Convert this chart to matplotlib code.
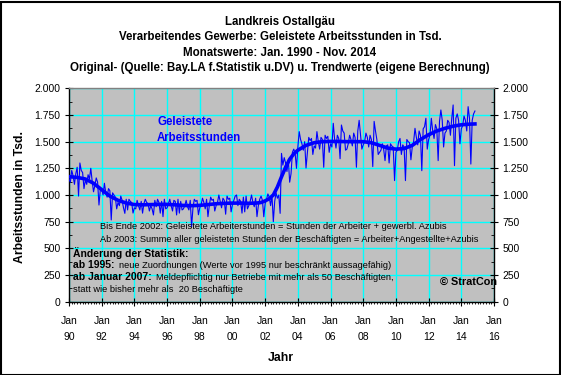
import numpy as np
import matplotlib
matplotlib.use("Agg")
import matplotlib.pyplot as plt
from matplotlib.ticker import MultipleLocator, FuncFormatter
from matplotlib.patches import Rectangle

plt.rcParams['font.family'] = ['Liberation Sans', 'DejaVu Sans']

# monthly values, Jan 1990 - Nov 2014 (thousand hours), one row per year
hours = [
    1150, 1120, 1230, 1180, 1100, 1200, 1260, 990, 1300, 1230, 1210, 1060,   # 1990
    1140, 1100, 1190, 1150, 1250, 1130, 1030, 1090, 1160, 1120, 906, 1050,   # 1991
    1060, 1000, 1110, 1020, 980, 1060, 1040, 766, 1020, 1000, 980, 870,      # 1992
    930, 900, 990, 950, 880, 828, 960, 860, 960, 940, 930, 831,              # 1993
    880, 870, 950, 900, 860, 940, 830, 920, 960, 930, 920, 850,              # 1994
    900, 870, 813, 950, 890, 960, 930, 830, 940, 797, 960, 870,              # 1995
    880, 920, 960, 900, 850, 950, 940, 813, 960, 830, 940, 860,              # 1996
    870, 900, 950, 890, 860, 950, 703, 880, 960, 940, 950, 815,              # 1997
    880, 910, 970, 930, 870, 960, 797, 900, 980, 950, 960, 850,              # 1998
    900, 930, 1000, 940, 880, 970, 950, 820, 990, 960, 970, 842,             # 1999
    910, 950, 990, 1000, 900, 960, 940, 830, 980, 842, 990, 870,             # 2000
    900, 940, 1000, 930, 890, 970, 797, 900, 960, 990, 950, 796,             # 2001
    920, 960, 1010, 980, 900, 1000, 750, 940, 1020, 970, 1000, 828,          # 2002
    1390, 1280, 1350, 1300, 1220, 1330, 1120, 1200, 1400, 1430, 1390, 1250,  # 2003
    1450, 1594, 1520, 1480, 1420, 1500, 1253, 1400, 1540, 1510, 1530, 1380,  # 2004
    1460, 1440, 1594, 1500, 1430, 1540, 1520, 1260, 1560, 1530, 1550, 1400,  # 2005
    1480, 1450, 1672, 1520, 1440, 1560, 1530, 1340, 1656, 1600, 1580, 1420,  # 2006
    1430, 1480, 1560, 1520, 1460, 1580, 1540, 1260, 1600, 1700, 1570, 1430,  # 2007
    1470, 1500, 1580, 1540, 1450, 1560, 1520, 1266, 1690, 1600, 1520, 1380,  # 2008
    1400, 1420, 1480, 1430, 1322, 1460, 1470, 1300, 1480, 1460, 1450, 1135,  # 2009
    1400, 1420, 1500, 1530, 1380, 1470, 1450, 1135, 1520, 1500, 1490, 1330,  # 2010
    1450, 1500, 1625, 1540, 1470, 1600, 1560, 1228, 1620, 1640, 1719, 1430,  # 2011
    1520, 1560, 1719, 1600, 1530, 1660, 1620, 1322, 1690, 1797, 1700, 1450,  # 2012
    1580, 1600, 1700, 1680, 1560, 1720, 1844, 1275, 1720, 1760, 1700, 1480,  # 2013
    1620, 1650, 1740, 1700, 1600, 1828, 1720, 1290, 1700, 1760, 1787,        # 2014
]

trend_t = [1990.0, 1990.5, 1991.0, 1991.5, 1992.0, 1992.5, 1993.0, 1993.5,
           1994.0, 1994.5, 1995.0, 1995.5, 1996.0, 1996.5, 1997.0, 1997.5,
           1998.0, 1998.5, 1999.0, 1999.5, 2000.0, 2000.5, 2001.0, 2001.5,
           2001.75, 2002.0, 2002.25, 2002.5, 2002.75, 2003.0, 2003.25, 2003.5,
           2003.75, 2004.0, 2004.5, 2005.0, 2005.5, 2006.0, 2006.5, 2007.0,
           2007.5, 2008.0, 2008.5, 2009.0, 2009.5, 2010.0, 2010.5, 2011.0,
           2011.5, 2012.0, 2012.5, 2013.0, 2013.5, 2014.0, 2014.5, 2014.833]
trend_v = [1172, 1165, 1150, 1110, 1050, 990, 950, 925,
           910, 908, 910, 912, 912, 908, 902, 900,
           903, 910, 918, 922, 924, 924, 922, 925,
           930, 945, 965, 1000, 1075, 1170, 1260, 1335,
           1385, 1420, 1465, 1490, 1500, 1502, 1502, 1500,
           1500, 1500, 1490, 1465, 1440, 1430, 1435, 1465,
           1520, 1565, 1600, 1625, 1645, 1658, 1664, 1666]

title_lines = ["Landkreis Ostallgäu",
               "Verarbeitendes Gewerbe: Geleistete Arbeitsstunden in Tsd.",
               "Monatswerte: Jan. 1990 - Nov. 2014",
               "Original- (Quelle: Bay.LA f.Statistik u.DV) u. Trendwerte (eigene Berechnung)"]

W, H = 561, 375
fig = plt.figure(figsize=(W / 100, H / 100), dpi=100)
ax = fig.add_axes([69 / W, 1 - 301.7 / H, (494 - 69) / W, (301.7 - 88.3) / H])
ax.set_facecolor('#C0C0C0')

months = 1990 + np.arange(len(hours)) / 12
ax.plot(months, hours, color='#0000FF', lw=0.8, zorder=3)
ax.plot(trend_t, trend_v, color='#0000FF', lw=2.6, zorder=4)

ax.set_xlim(1990, 2016)
ax.set_ylim(0, 2000)
ax.xaxis.set_major_locator(MultipleLocator(2))
ax.xaxis.set_minor_locator(MultipleLocator(1 / 6))
ax.xaxis.set_major_formatter(FuncFormatter(lambda v, p: "Jan\n%02d" % (int(round(v)) % 100)))
ax.yaxis.set_major_locator(MultipleLocator(250))
ax.yaxis.set_minor_locator(MultipleLocator(125))
ax.yaxis.set_major_formatter(FuncFormatter(lambda v, p: "{:,.0f}".format(v).replace(",", ".")))
ax.grid(True, which='major', color='#00FFFF', lw=1, zorder=1)
ax.set_axisbelow(True)

ax.tick_params(which='major', direction='inout', length=6, width=0.8, labelsize=7.5,
               left=True, right=True, labelright=True, pad=3)
ax.tick_params(which='minor', direction='in', length=2.5, width=0.6, left=True, right=True)
ax.tick_params(axis='x', which='minor', direction='out', length=1.5)
ax.tick_params(axis='x', which='major', pad=7.5)
for lab in ax.get_xticklabels():
    lab.set_linespacing(1.75)
for s in ['left', 'right', 'bottom']:
    ax.spines[s].set_color('black')
    ax.spines[s].set_linewidth(1)
ax.spines['top'].set_color('#808080')
ax.spines['top'].set_linewidth(1)

# titles
for i, line in enumerate(title_lines):
    fig.text(280 / W, 1 - (22 + 15.3 * i) / H, line, ha='center', va='center',
             fontsize=8.3, fontweight='bold')

fig.text(20 / W, 1 - 197 / H, "Arbeitsstunden in Tsd.", rotation=90, ha='center',
         va='center', fontsize=8.8, fontweight='bold')
fig.text(281 / W, 1 - 358 / H, "Jahr", ha='center', va='center', fontsize=8.8,
         fontweight='bold')

fig.text(157 / W, 1 - 130 / H, "Geleistete\nArbeitsstunden", ha='left', va='center',
         fontsize=8.3, fontweight='bold', color='#0000FF', linespacing=1.4)

note_size = 6.7
fig.text(100 / W, 1 - 227 / H, "Bis Ende 2002: Geleistete Arbeiterstunden = Stunden der Arbeiter + gewerbl. Azubis",
         fontsize=note_size, va='center')
fig.text(100 / W, 1 - 240 / H, "Ab 2003: Summe aller geleisteten Stunden der Beschäftigten = Arbeiter+Angestellte+Azubis",
         fontsize=note_size, va='center')
fig.text(73 / W, 1 - 253 / H, "Änderung der Statistik:", fontsize=7.5, fontweight='bold', va='center')
t1 = fig.text(73 / W, 1 - 265 / H, "ab 1995:", fontsize=7.5, fontweight='bold', va='center')
ax.annotate("neue Zuordnungen (Werte vor 1995 nur beschränkt aussagefähig)", xy=(1, 0),
            xycoords=t1, xytext=(3, 0), textcoords='offset points', fontsize=note_size,
            va='bottom', annotation_clip=False)
t2 = fig.text(73 / W, 1 - 277 / H, "ab Januar 2007:", fontsize=7.5, fontweight='bold', va='center')
ax.annotate("Meldepflichtig nur Betriebe mit mehr als 50 Beschäftigten,", xy=(1, 0),
            xycoords=t2, xytext=(3, 0), textcoords='offset points', fontsize=note_size,
            va='bottom', annotation_clip=False)
fig.text(73 / W, 1 - 289 / H, "statt wie bisher mehr als  20 Beschäftigte", fontsize=note_size,
         va='center')
fig.text(440 / W, 1 - 282 / H, "© StratCon", fontsize=7.8, fontweight='bold', va='center')

fig.patches.append(Rectangle((0.5 / W, 0.5 / H), (W - 2) / W, (H - 2) / H, transform=fig.transFigure,
                             fill=False, edgecolor='black', lw=1.5))

fig.savefig("out.png", dpi=100, facecolor='white')
